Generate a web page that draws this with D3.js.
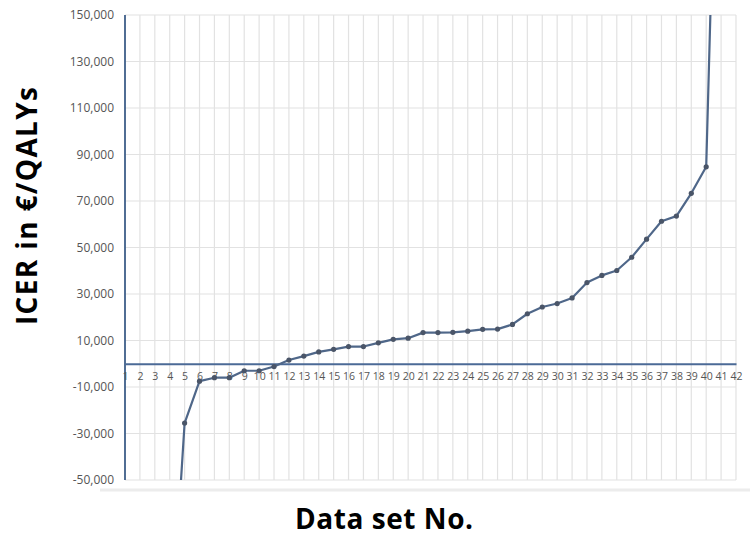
<!DOCTYPE html>
<html>
<head>
<meta charset="utf-8">
<script src="https://cdn.jsdelivr.net/npm/d3@7"></script>
<style>
  html, body { margin: 0; padding: 0; background: #fff; }
  svg { display: block; }
</style>
</head>
<body>
<svg id="chart" width="750" height="543"></svg>
<script>
// ---- data ----
const categories = d3.range(1, 43);            // data set No. 1..42
const yTicks = [-50000, -30000, -10000, 10000, 30000, 50000, 70000, 90000, 110000, 130000, 150000];
// ICER values (€/QALY) by data set; 1-3 not visible, 4 and 41 run off the plot
const icerValues = [
  null, null, null, -127000, -25500, -7500, -6000, -6000, -3000, -3000,
  -1200, 1600, 3300, 5100, 6200, 7400, 7400, 9000, 10500, 11000,
  13400, 13400, 13500, 14000, 14800, 14900, 16900, 21500, 24400, 25900,
  28300, 34900, 38000, 40100, 45800, 53600, 61300, 63500, 73300, 84700,
  318000, null
];

// ---- layout ----
const svg = d3.select("#chart");
const mLeft = 125, mRight = 736, mTop = 15, mBottom = 480;
const x = d3.scaleLinear().domain([1, 42]).range([mLeft, mRight]);
const y = d3.scaleLinear().domain([-50000, 150000]).range([mBottom, mTop]);
const fmt = d3.formatLocale({decimal: ".", thousands: ",", grouping: [3], currency: ["", ""], minus: "-"}).format(",");

// faint photo frame line below the plot
svg.append("line").attr("x1", 100).attr("x2", 750).attr("y1", 490).attr("y2", 490)
  .attr("stroke", "#ececec").attr("stroke-width", 3);

// gridlines
const grid = svg.append("g");
grid.selectAll("line.h").data(yTicks).join("line")
  .attr("x1", mLeft).attr("x2", mRight)
  .attr("y1", d => y(d)).attr("y2", d => y(d))
  .attr("stroke", "#e2e2e2").attr("stroke-width", 1.2);
grid.selectAll("line.v").data(categories).join("line")
  .attr("y1", mTop).attr("y2", mBottom)
  .attr("x1", d => x(d)).attr("x2", d => x(d))
  .attr("stroke", "#e2e2e2").attr("stroke-width", 1.2);

// y axis labels
const yAxis = d3.axisLeft(y).tickValues(yTicks).tickSize(0).tickPadding(11).tickFormat(fmt);
const gy = svg.append("g").attr("transform", `translate(${mLeft},0)`).call(yAxis);
gy.select(".domain").remove();
gy.selectAll("text").attr("font-family", "Open Sans, sans-serif").attr("font-size", 12).attr("fill", "#555");

// vertical axis line
svg.append("line").attr("x1", mLeft).attr("x2", mLeft).attr("y1", mTop).attr("y2", mBottom)
  .attr("stroke", "#3f5f8a").attr("stroke-width", 1.8);

// zero line with category labels
const xAxis = d3.axisBottom(x).tickValues(categories).tickSize(0).tickPadding(9).tickFormat(d => d);
const gx = svg.append("g").attr("transform", `translate(0,${y(0)})`).call(xAxis);
gx.select(".domain").attr("stroke", "#4b6a96").attr("stroke-width", 2.2);
gx.selectAll("text").attr("font-family", "Open Sans, sans-serif").attr("font-size", 10.5).attr("fill", "#555");

// data line
svg.append("clipPath").attr("id", "plotclip").append("rect")
  .attr("x", mLeft - 5).attr("y", mTop).attr("width", mRight - mLeft + 10).attr("height", mBottom - mTop);
const pts = categories.map((c, i) => ({c, v: icerValues[i]})).filter(d => d.v !== null);
const line = d3.line().x(d => x(d.c)).y(d => y(d.v));
const gData = svg.append("g").attr("clip-path", "url(#plotclip)");
gData.append("path").datum(pts).attr("d", line)
  .attr("fill", "none").attr("stroke", "#4f6789").attr("stroke-width", 2.2).attr("stroke-linejoin", "round");
gData.selectAll("circle").data(pts).join("circle")
  .attr("cx", d => x(d.c)).attr("cy", d => y(d.v)).attr("r", 2.6)
  .attr("fill", "#4a5568");

// axis titles
svg.append("text").attr("transform", "translate(37,206) rotate(-90)")
  .attr("text-anchor", "middle").attr("font-family", "Open Sans, sans-serif")
  .attr("font-weight", "bold").attr("font-size", 28).attr("fill", "#000")
  .attr("textLength", 238).attr("lengthAdjust", "spacing")
  .text("ICER in €/QALYs");
svg.append("text").attr("x", 384).attr("y", 529)
  .attr("text-anchor", "middle").attr("font-family", "Open Sans, sans-serif")
  .attr("font-weight", "bold").attr("font-size", 28).attr("fill", "#000")
  .attr("textLength", 178).attr("lengthAdjust", "spacing")
  .text("Data set No.");
</script>
</body>
</html>
